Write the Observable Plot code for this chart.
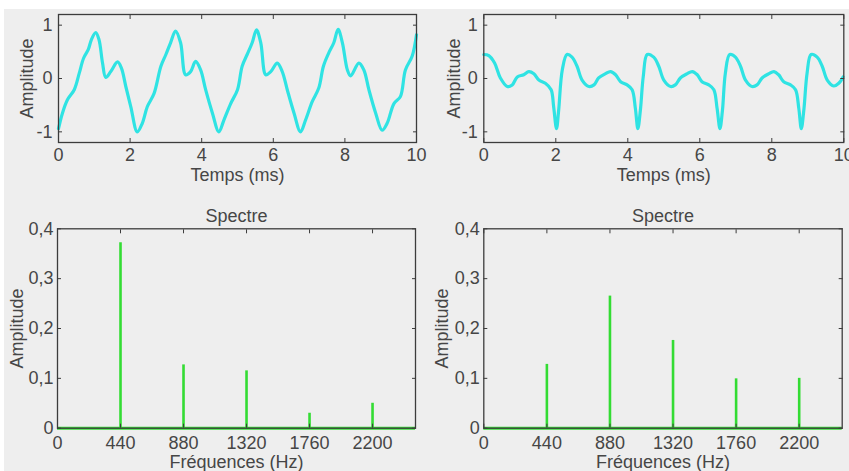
<!DOCTYPE html>
<html>
<head>
<meta charset="utf-8">
<script src="https://cdn.jsdelivr.net/npm/d3@7"></script>
<script src="https://cdn.jsdelivr.net/npm/@observablehq/plot@0.6"></script>
<style>
  html, body { margin: 0; padding: 0; background: #ffffff; }
  #page { position: relative; width: 849px; height: 471px; overflow: hidden; background: #ffffff; }
  #bg { position: absolute; left: 4px; top: 9px; width: 845px; height: 462px; background: #eeeeee; }
  .panel { position: absolute; }
</style>
</head>
<body>
<div id="page"><div id="bg"></div></div>
<script>
// ---- Data ----
// Top-left waveform: time (ms) and amplitude
const timeA = [0,0.11,0.25,0.44,0.58,0.70,0.83,0.92,1.04,1.13,1.23,1.32,1.46,1.65,1.76,1.88,2.02,2.20,2.34,2.48,2.67,2.86,3.00,3.13,3.27,3.41,3.55,3.69,3.83,3.97,4.11,4.30,4.48,4.62,4.81,5.00,5.13,5.27,5.41,5.53,5.65,5.79,5.93,6.11,6.25,6.39,6.58,6.76,6.90,7.09,7.27,7.40,7.55,7.69,7.81,7.93,8.07,8.16,8.39,8.53,8.67,8.86,9.04,9.18,9.37,9.55,9.69,9.88,10.0];
const ampA  = [-0.94,-0.65,-0.40,-0.21,0.10,0.38,0.54,0.73,0.86,0.73,0.29,0.02,0.13,0.31,0.19,-0.15,-0.53,-1.0,-0.84,-0.53,-0.28,0.23,0.45,0.67,0.89,0.67,0.07,0.13,0.32,0.16,-0.21,-0.65,-1.0,-0.78,-0.47,-0.21,0.23,0.45,0.67,0.91,0.67,0.07,0.13,0.29,0.13,-0.21,-0.65,-1.0,-0.78,-0.43,-0.18,0.23,0.48,0.67,0.92,0.67,0.16,0.05,0.29,0.16,-0.21,-0.65,-0.97,-0.84,-0.47,-0.34,0.16,0.42,0.82];

// Top-right waveform: time (ms) and amplitude
const timeB = [0,0.14,0.30,0.46,0.65,0.79,0.93,1.11,1.25,1.39,1.53,1.71,1.87,1.94,2.02,2.08,2.18,2.31,2.45,2.59,2.73,2.92,3.06,3.19,3.38,3.52,3.66,3.80,3.98,4.12,4.21,4.28,4.35,4.43,4.54,4.72,4.86,5.00,5.19,5.32,5.46,5.65,5.79,5.93,6.06,6.25,6.39,6.48,6.56,6.63,6.71,6.83,6.99,7.13,7.27,7.45,7.59,7.73,7.92,8.06,8.19,8.33,8.52,8.66,8.75,8.82,8.89,8.98,9.09,9.26,9.40,9.54,9.72,9.86,9.98];
const ampB  = [0.45,0.43,0.29,0.01,-0.15,-0.12,0.03,0.07,0.13,0.09,-0.03,-0.09,-0.21,-0.53,-0.94,-0.59,0.16,0.45,0.40,0.23,-0.03,-0.15,-0.12,0.01,0.09,0.13,0.07,-0.06,-0.12,-0.21,-0.56,-0.94,-0.59,0.04,0.45,0.40,0.23,-0.03,-0.15,-0.12,0.01,0.09,0.13,0.07,-0.06,-0.12,-0.21,-0.56,-0.94,-0.59,0.10,0.45,0.40,0.23,-0.03,-0.15,-0.12,0.01,0.09,0.13,0.07,-0.06,-0.12,-0.21,-0.56,-0.94,-0.59,0.10,0.45,0.40,0.23,-0.03,-0.14,-0.09,0.03];

// Spectra: harmonic frequencies (Hz) and amplitudes
const freqs    = [440, 880, 1320, 1760, 2200];
const specAmpL = [0.372, 0.127, 0.115, 0.030, 0.050];
const specAmpR = [0.128, 0.265, 0.176, 0.099, 0.100];

// Ticks
const timeTicks = [0, 2, 4, 6, 8, 10];
const waveYTicks = [-1, 0, 1];
const freqTicks = [0, 440, 880, 1320, 1760, 2200];
const specYTicks = [0, 0.1, 0.2, 0.3, 0.4];

// Labels
const xLabelTime = "Temps (ms)";
const xLabelFreq = "Fréquences (Hz)";
const yLabel = "Amplitude";
const specTitle = "Spectre";

// ---- Drawing ----
const FONT = "'Liberation Sans', Arial, sans-serif";
const TEXT = "#464646";
const CYAN = "#2fe3e3";
const GREEN = "#33dc33";
const FRAME = "#3c3c3c";

function commaFmt(d) { return d === 0 ? "0" : d.toFixed(1).replace(".", ","); }

function panel(cfg) {
  const marks = [
    ...cfg.dataMarks,
    Plot.frame({stroke: FRAME, strokeWidth: 1.3}),
    Plot.axisX(cfg.xticks, {anchor: "bottom", tickSize: -4, tickFormat: () => "", label: null, stroke: FRAME}),
    Plot.axisX(cfg.xticks, {anchor: "top", tickSize: -4, tickFormat: () => "", label: null, stroke: FRAME}),
    Plot.axisY(cfg.yticks, {anchor: "left", tickSize: -4, tickFormat: () => "", label: null, stroke: FRAME}),
    Plot.axisY(cfg.yticks, {anchor: "right", tickSize: -4, tickFormat: () => "", label: null, stroke: FRAME}),
    Plot.axisX(cfg.xticks, {anchor: "bottom", tickSize: 0, tickPadding: cfg.xPad, label: null, tickFormat: cfg.xfmt, fill: TEXT}),
    Plot.axisY(cfg.yticks, {anchor: "left", tickSize: 0, tickPadding: cfg.yPad, label: null, tickFormat: cfg.yfmt, fill: TEXT}),
    Plot.text([cfg.xlabel], {frameAnchor: "bottom", dy: cfg.xLabelDy, textAnchor: "middle", lineAnchor: "middle", fill: TEXT}),
    Plot.text([yLabel], {frameAnchor: "left", dx: cfg.yLabelDx, rotate: -90, textAnchor: "middle", lineAnchor: "middle", fill: TEXT})
  ];
  if (cfg.title) {
    marks.push(Plot.text([cfg.title], {frameAnchor: "top", dy: cfg.titleDy, textAnchor: "middle", lineAnchor: "middle", fill: TEXT}));
  }
  const svg = Plot.plot({
    width: cfg.width,
    height: cfg.height,
    marginLeft: cfg.ml, marginRight: cfg.mr, marginTop: cfg.mt, marginBottom: cfg.mb,
    x: {domain: cfg.xdomain},
    y: {domain: cfg.ydomain},
    style: {background: "transparent", fontFamily: FONT, fontSize: "18px", color: TEXT, overflow: "hidden"},
    marks
  });
  const div = document.createElement("div");
  div.className = "panel";
  div.style.left = cfg.left + "px";
  div.style.top = cfg.top + "px";
  div.appendChild(svg);
  document.getElementById("page").appendChild(div);
}

const waveA = timeA.map((t, i) => ({t, a: ampA[i]}));
const waveB = timeB.map((t, i) => ({t, a: ampB[i]}));
const specL = freqs.map((f, i) => ({f, a: specAmpL[i]}));
const specR = freqs.map((f, i) => ({f, a: specAmpR[i]}));

// Top-left
panel({
  left: 0, top: 0, width: 430, height: 190, ml: 58, mr: 14, mt: 14, mb: 48,
  xdomain: [0, 10], ydomain: [-1.2, 1.2], xticks: timeTicks, yticks: waveYTicks,
  xfmt: d => String(d), yfmt: d => String(d), xPad: 6, yPad: 6,
  xlabel: xLabelTime, xLabelDy: 33, yLabelDx: -31,
  dataMarks: [Plot.line(waveA, {x: "t", y: "a", stroke: CYAN, strokeWidth: 3.2, curve: "catmull-rom"})]
});
// Top-right
panel({
  left: 425, top: 0, width: 424, height: 190, ml: 58.3, mr: 5.7, mt: 14, mb: 48,
  xdomain: [0, 10], ydomain: [-1.2, 1.2], xticks: timeTicks, yticks: waveYTicks,
  xfmt: d => String(d), yfmt: d => String(d), xPad: 6, yPad: 6,
  xlabel: xLabelTime, xLabelDy: 33, yLabelDx: -30,
  dataMarks: [Plot.line(waveB, {x: "t", y: "a", stroke: CYAN, strokeWidth: 3.2, curve: "catmull-rom"})]
});
// Bottom-left
panel({
  left: 0, top: 195, width: 430, height: 276, ml: 57, mr: 15, mt: 33.3, mb: 43.3,
  xdomain: [0, 2500], ydomain: [0, 0.4], xticks: freqTicks, yticks: specYTicks,
  xfmt: d => String(d), yfmt: commaFmt, xPad: 8.5, yPad: 4,
  xlabel: xLabelFreq, xLabelDy: 34, yLabelDx: -40, title: specTitle, titleDy: -12.6,
  dataMarks: [
    Plot.ruleX(specL, {x: "f", y1: 0, y2: "a", stroke: GREEN, strokeWidth: 2.6}),
    Plot.ruleY([0], {stroke: GREEN, strokeWidth: 3})
  ]
});
// Bottom-right
panel({
  left: 425, top: 195, width: 424, height: 276, ml: 58.3, mr: 7.3, mt: 33.3, mb: 43.3,
  xdomain: [0, 2500], ydomain: [0, 0.4], xticks: freqTicks, yticks: specYTicks,
  xfmt: d => String(d), yfmt: commaFmt, xPad: 8.5, yPad: 4,
  xlabel: xLabelFreq, xLabelDy: 34, yLabelDx: -41.6, title: specTitle, titleDy: -12.6,
  dataMarks: [
    Plot.ruleX(specR, {x: "f", y1: 0, y2: "a", stroke: GREEN, strokeWidth: 2.6}),
    Plot.ruleY([0], {stroke: GREEN, strokeWidth: 3})
  ]
});
</script>
</body>
</html>
